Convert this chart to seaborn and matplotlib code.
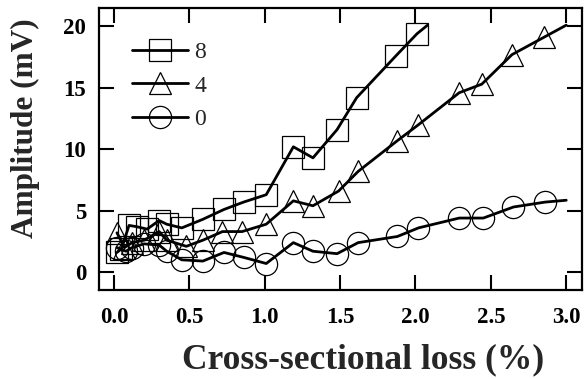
import matplotlib
matplotlib.use("Agg")
import matplotlib.pyplot as plt
from matplotlib.lines import Line2D
import seaborn as sns
import pandas as pd

# ---- data ----
# marker positions
x_8 = [0.02, 0.05, 0.10, 0.15, 0.22, 0.30, 0.35, 0.45, 0.59, 0.73, 0.86, 1.01,
       1.19, 1.32, 1.48, 1.61, 1.87, 2.01]
y_8 = [1.6, 1.9, 3.8, 3.7, 3.5, 4.2, 3.9, 3.6, 4.3, 5.1, 5.7, 6.3,
       10.2, 9.3, 11.6, 14.2, 17.6, 19.4]

x_4 = [0.02, 0.07, 0.12, 0.20, 0.30, 0.35, 0.48, 0.59, 0.72, 0.85, 1.01,
       1.19, 1.32, 1.49, 1.62, 1.88, 2.02, 2.29, 2.44, 2.64, 2.85]
y_4 = [3.2, 2.0, 2.4, 2.6, 3.3, 2.6, 2.1, 2.6, 3.3, 3.3, 3.9,
       5.8, 5.4, 6.6, 8.2, 10.7, 12.0, 14.6, 15.3, 17.7, 19.1]

x_0 = [0.02, 0.08, 0.12, 0.20, 0.30, 0.35, 0.45, 0.59, 0.73, 0.86, 1.01,
       1.19, 1.32, 1.48, 1.62, 1.88, 2.02, 2.29, 2.45, 2.65, 2.86]
y_0 = [2.0, 1.7, 2.0, 2.3, 2.2, 1.7, 1.0, 0.9, 1.6, 1.2, 0.7,
       2.4, 1.7, 1.5, 2.4, 2.9, 3.6, 4.4, 4.4, 5.3, 5.7]

# the connecting lines run a little past the last marker
end_x_8, end_y_8 = 2.08, 20.1
end_x_4, end_y_4 = 3.00, 20.1
end_x_0, end_y_0 = 3.00, 5.85

series_labels = ["8", "4", "0"]
series_markers = ["s", "^", "o"]
x_ticks = [0.0, 0.5, 1.0, 1.5, 2.0, 2.5, 3.0]
x_ticklabels = ["0.0", "0.5", "1.0", "1.5", "2.0", "2.5", "3.0"]
y_ticks = [0, 5, 10, 15, 20]
y_ticklabels = ["0", "5", "10", "15", "20"]

sns.set_style("ticks")
plt.rcParams["font.family"] = ["Liberation Serif", "DejaVu Serif"]

fig = plt.figure(figsize=(5.85, 3.79), dpi=100)
ax = fig.add_axes([0.169, 0.235, 0.826, 0.744])

LW = 2.0
MS = 16
MEW = 0.9

series = [(x_8, y_8, end_x_8, end_y_8), (x_4, y_4, end_x_4, end_y_4),
          (x_0, y_0, end_x_0, end_y_0)]
handles = []
for (xs, ys, ex, ey), lab, mk in zip(series, series_labels, series_markers):
    line_df = pd.DataFrame({"x": xs + [ex], "y": ys + [ey]})
    mark_df = pd.DataFrame({"x": xs, "y": ys})
    sns.lineplot(data=line_df, x="x", y="y", ax=ax, estimator=None, sort=False,
                 color="black", linewidth=LW)
    sns.lineplot(data=mark_df, x="x", y="y", ax=ax, estimator=None, sort=False,
                 color="black", linestyle="none", marker=mk, markersize=MS,
                 markerfacecolor="none", markeredgecolor="black",
                 markeredgewidth=MEW)
    handles.append(Line2D([], [], color="black", linewidth=LW, marker=mk,
                          markersize=MS, markerfacecolor="none",
                          markeredgecolor="black", markeredgewidth=MEW,
                          label=lab))

ax.set_xlim(-0.1, 3.105)
ax.set_ylim(-1.45, 21.5)
ax.set_xticks(x_ticks)
ax.set_xticklabels(x_ticklabels)
ax.set_yticks(y_ticks)
ax.set_yticklabels(y_ticklabels)
ax.tick_params(direction="in", length=11, width=1.5, top=True, right=True,
               labelsize=16.5, colors="black")
ax.tick_params(axis="x", pad=12)
ax.tick_params(axis="y", pad=9)
for lbl in ax.get_xticklabels() + ax.get_yticklabels():
    lbl.set_fontweight("bold")
for sp in ax.spines.values():
    sp.set_linewidth(1.6)
    sp.set_color("black")

ax.set_xlabel("Cross-sectional loss (%)", fontsize=25.5, fontweight="bold")
ax.set_ylabel("Amplitude (mV)", fontsize=22.5, fontweight="bold")
ax.xaxis.set_label_coords(0.547, -0.19)
ax.yaxis.set_label_coords(-0.122, 0.572)

leg = ax.legend(handles=handles, loc="upper left", bbox_to_anchor=(0.068, 0.88),
                frameon=False, fontsize=17, handlelength=2.4, handletextpad=0.25,
                labelspacing=0.5, borderpad=0, borderaxespad=0)

fig.savefig("out.png", dpi=100)
